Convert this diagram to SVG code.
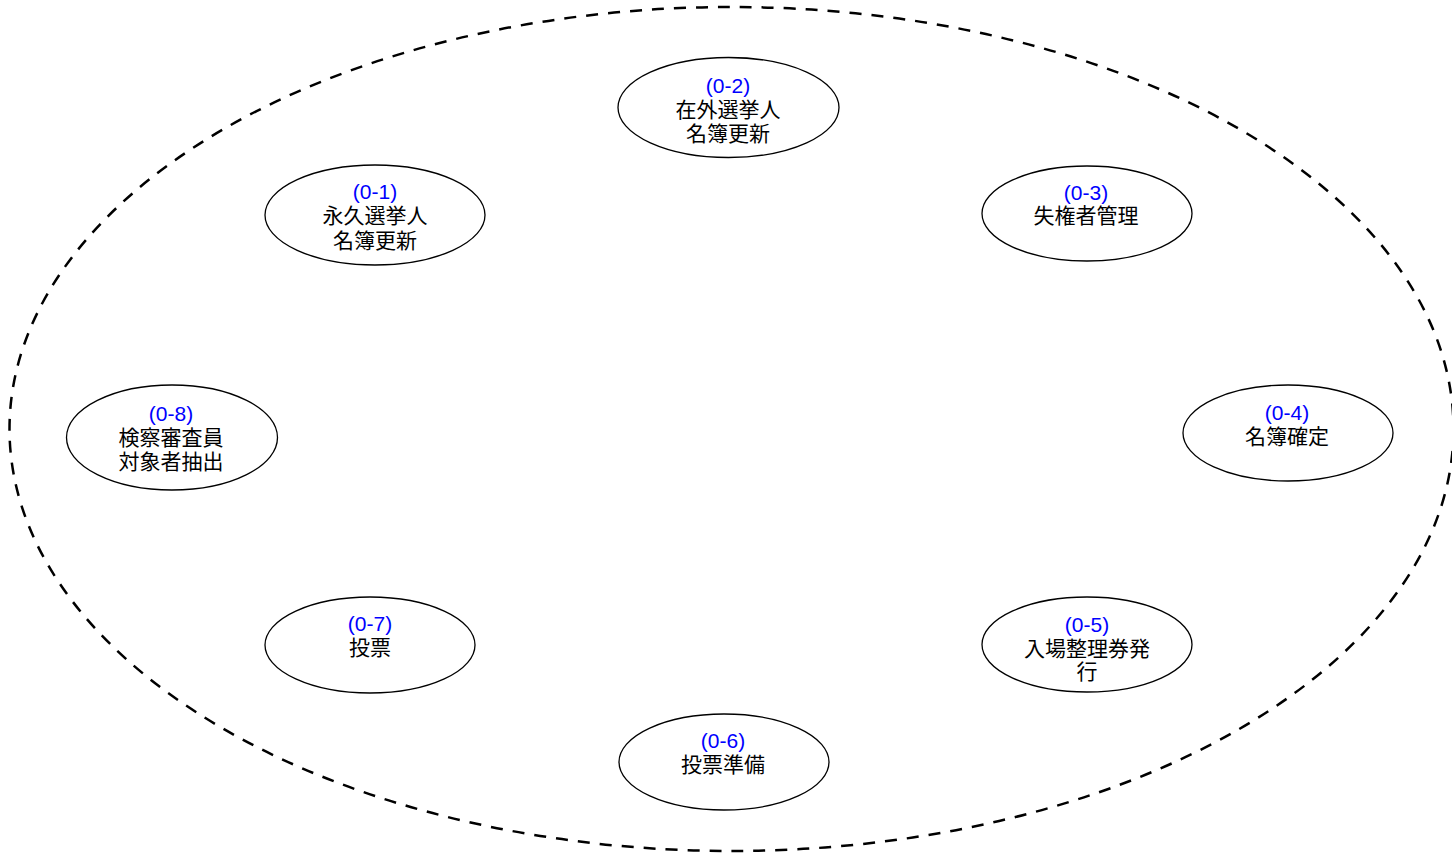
<svg xmlns="http://www.w3.org/2000/svg" width="1452" height="854" viewBox="0 0 1452 854">
<style>
.bg{fill:none;stroke:#000;stroke-width:2.5;stroke-dasharray:12 10}
.n{fill:#fff;stroke:#000;stroke-width:1.3}
text{font-family:"Liberation Sans","Noto Sans CJK JP",sans-serif;font-size:21px;text-anchor:middle;dominant-baseline:central;fill:#000}
.id{fill:#0000ff}
</style>
<rect width="1452" height="854" fill="#fff"/>
<g id="boundary"><ellipse class="bg" cx="731.5" cy="429" rx="722" ry="422"/></g>
<g id="connectors"></g>
<g id="n02"><ellipse class="n" cx="728.5" cy="107.5" rx="110.5" ry="50"/><text x="728" y="85" class="id">(0-2)</text><text x="728" y="109">在外選挙人</text><text x="728" y="133">名簿更新</text></g>
<g id="n01"><ellipse class="n" cx="375" cy="215" rx="110" ry="50"/><text x="375" y="191" class="id">(0-1)</text><text x="375" y="215">永久選挙人</text><text x="375" y="240">名簿更新</text></g>
<g id="n03"><ellipse class="n" cx="1087" cy="213.5" rx="105" ry="47.5"/><text x="1086" y="192" class="id">(0-3)</text><text x="1086" y="215">失権者管理</text></g>
<g id="n04"><ellipse class="n" cx="1288" cy="433" rx="105" ry="48"/><text x="1287" y="412" class="id">(0-4)</text><text x="1287" y="436">名簿確定</text></g>
<g id="n05"><ellipse class="n" cx="1087" cy="644.5" rx="105" ry="47.5"/><text x="1087" y="624" class="id">(0-5)</text><text x="1087" y="648">入場整理券発</text><text x="1087" y="671">行</text></g>
<g id="n06"><ellipse class="n" cx="724" cy="762" rx="105" ry="48"/><text x="723" y="740" class="id">(0-6)</text><text x="723" y="764">投票準備</text></g>
<g id="n07"><ellipse class="n" cx="370" cy="645" rx="105" ry="48"/><text x="370" y="623" class="id">(0-7)</text><text x="370" y="647">投票</text></g>
<g id="n08"><ellipse class="n" cx="172" cy="437.5" rx="105.5" ry="52.5"/><text x="171" y="413" class="id">(0-8)</text><text x="171" y="437">検察審査員</text><text x="171" y="461">対象者抽出</text></g>
</svg>
